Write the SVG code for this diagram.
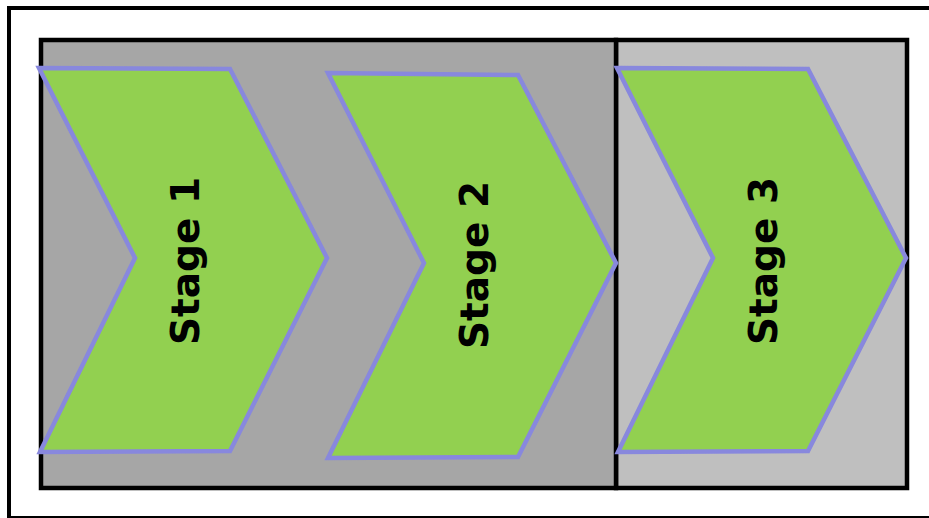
<svg xmlns="http://www.w3.org/2000/svg" width="929" height="518" viewBox="0 0 929 518">
  <style>
    .frame { fill: #ffffff; stroke: #000000; stroke-width: 4; }
    .panel { stroke: #000000; stroke-width: 4.5; }
    .dark { fill: #a6a6a6; }
    .light { fill: #bfbfbf; }
    .chevron { fill: #92d050; stroke: #8888dd; stroke-width: 4.5; stroke-linejoin: miter; }
    .label { font-family: "DejaVu Sans", Verdana, sans-serif; font-weight: bold; font-size: 39px; fill: #000000; text-anchor: middle; dominant-baseline: central; }
  </style>

  <!-- outer frame -->
  <rect class="frame" x="9" y="8" width="940" height="510"/>

  <!-- background panels -->
  <rect class="panel light" x="616" y="40" width="291" height="448"/>
  <rect class="panel dark" x="41" y="40" width="575" height="448"/>

  <g id="stage1">
    <polygon class="chevron" points="39,68 230,69 327,258 230,451 40,452 135,258"/>
    <text class="label" transform="translate(185,261) rotate(-90)">Stage 1</text>
  </g>

  <g id="stage2">
    <polygon class="chevron" points="328,73 518,75 616,263 518,457 328,458 424,263"/>
    <text class="label" transform="translate(474,265) rotate(-90)">Stage 2</text>
  </g>

  <g id="stage3">
    <polygon class="chevron" points="617,68 808,69 906,258 808,451 618,452 713,258"/>
    <text class="label" transform="translate(763,261) rotate(-90)">Stage 3</text>
  </g>

  <g id="connectors"/>
</svg>
